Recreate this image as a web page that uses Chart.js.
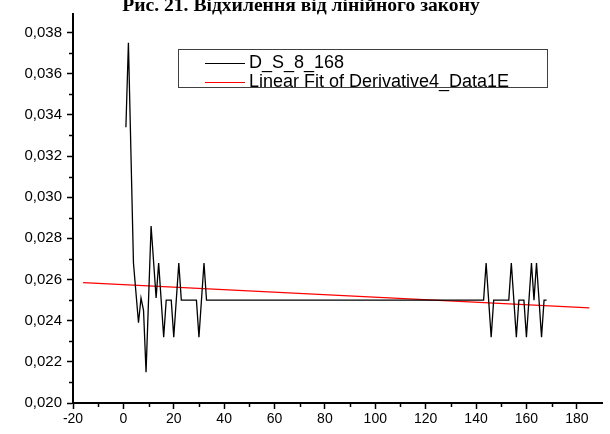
<!DOCTYPE html>
<html>
<head>
<meta charset="utf-8">
<script src="https://cdn.jsdelivr.net/npm/chart.js@4"></script>
<style>
  body { margin: 0; background: #fff; }
  #wrap { position: relative; width: 610px; height: 434px; overflow: hidden; background: #fff; }
  #title { position: absolute; top: -5px; left: -4px; width: 610px; text-align: center;
           font: bold 19.6px "Liberation Serif", serif; line-height: 20px; color: #000; white-space: nowrap; }
  #legend { position: absolute; left: 178px; top: 49px; width: 370px; height: 39px;
            box-sizing: border-box; border: 1.5px solid #404040; background: #fff; }
  .row { position: absolute; left: 0; height: 20px; line-height: 20px; white-space: nowrap;
         font: 18px "Liberation Sans", Arial, sans-serif; color: #000; }
  .swatch { position: absolute; left: 26px; top: 11px; width: 40px; height: 1px; }
  .txt { position: absolute; left: 70px; top: 0; }
</style>
</head>
<body>
<div id="wrap">
  <canvas id="myChart" width="610" height="434"></canvas>
  <div id="title">Рис. 21. Відхилення від лінійного закону</div>
  <div id="legend"></div>
</div>
<script>
// black curve
const xVals = [1, 2, 4, 6, 7, 8, 9, 11, 13, 14, 16, 17, 19, 20, 22, 23, 29, 30, 32, 33,
  143, 144, 146, 147, 153, 154, 156, 157, 159, 160, 162, 163, 164, 166, 167, 168];
const yVals = [0.0334, 0.0375, 0.0268, 0.0239, 0.0251, 0.0245, 0.0215, 0.0286, 0.0251, 0.0268,
  0.0232, 0.0250, 0.0250, 0.0232, 0.0268, 0.0250, 0.0250, 0.0232, 0.0268, 0.0250,
  0.0250, 0.0268, 0.0232, 0.0250, 0.0250, 0.0268, 0.0232, 0.0250, 0.0250, 0.0232,
  0.0268, 0.0250, 0.0268, 0.0232, 0.0250, 0.0250];

// red linear fit, two ends
const fitX = [-16, 185];
const fitY = [0.02585, 0.02462];

// ticks
const xTicks = [-20, 0, 20, 40, 60, 80, 100, 120, 140, 160, 180];
const xMinor = [-10, 10, 30, 50, 70, 90, 110, 130, 150, 170];
const yTicks = [0.020, 0.022, 0.024, 0.026, 0.028, 0.030, 0.032, 0.034, 0.036, 0.038];
const yMinor = [0.021, 0.023, 0.025, 0.027, 0.029, 0.031, 0.033, 0.035, 0.037];

const labels = ['D_S_8_168', 'Linear Fit of Derivative4_Data1E'];
const colors = ['#000000', '#ff0000'];

const fontFamily = '"Liberation Sans", Arial, sans-serif';

const data = {
  datasets: [
    {
      label: labels[0],
      data: xVals.map((x, i) => ({ x: x, y: yVals[i] })),
      borderColor: colors[0],
      borderWidth: 1.3,
      pointRadius: 0,
      tension: 0
    },
    {
      label: labels[1],
      data: fitX.map((x, i) => ({ x: x, y: fitY[i] })),
      borderColor: colors[1],
      borderWidth: 1.3,
      pointRadius: 0,
      tension: 0
    }
  ]
};

// short minor ticks, Chart.js has none of its own
const minorTicks = {
  id: 'minorTicks',
  afterDraw(chart) {
    const ctx = chart.ctx;
    const sx = chart.scales.x, sy = chart.scales.y;
    ctx.save();
    ctx.strokeStyle = '#000';
    ctx.lineWidth = 1.5;
    xMinor.forEach(v => {
      const px = Math.round(sx.getPixelForValue(v)) + 0.5;
      ctx.beginPath();
      ctx.moveTo(px, sy.bottom);
      ctx.lineTo(px, sy.bottom + 4);
      ctx.stroke();
    });
    yMinor.forEach(v => {
      const py = Math.round(sy.getPixelForValue(v)) + 0.5;
      ctx.beginPath();
      ctx.moveTo(sx.left, py);
      ctx.lineTo(sx.left - 4, py);
      ctx.stroke();
    });
    ctx.restore();
  }
};

const config = {
  type: 'line',
  data: data,
  options: {
    responsive: false,
    animation: false,
    devicePixelRatio: 1,
    layout: { padding: { top: 10, right: 8, left: 0, bottom: 0 } },
    plugins: {
      legend: { display: false },
      title: { display: false },
      tooltip: { enabled: false }
    },
    scales: {
      x: {
        type: 'linear',
        min: -20,
        max: 190,
        afterBuildTicks: s => { s.ticks = xTicks.map(v => ({ value: v })); },
        afterFit: s => { s.height = 31; },
        ticks: { font: { family: fontFamily, size: 14 }, color: '#000', padding: 2, maxRotation: 0, autoSkip: false },
        grid: { drawOnChartArea: false, tickLength: 6, tickColor: '#000', tickWidth: 1.5 },
        border: { color: '#000', width: 2 }
      },
      y: {
        min: 0.020,
        max: 0.0389,
        afterBuildTicks: s => { s.ticks = yTicks.map(v => ({ value: v })); },
        afterFit: s => { s.width = 73; },
        ticks: {
          font: { family: fontFamily, size: 15 }, color: '#000', padding: 5, autoSkip: false,
          callback: v => v.toFixed(3).replace('.', ',')
        },
        grid: { drawOnChartArea: false, tickLength: 6, tickColor: '#000', tickWidth: 1.5 },
        border: { color: '#000', width: 2 }
      }
    }
  },
  plugins: [minorTicks]
};

const myChart = new Chart(document.getElementById('myChart'), config);

// legend box as html text
const legendBox = document.getElementById('legend');
const rowTops = [2, 21];
labels.forEach((name, i) => {
  const row = document.createElement('div');
  row.className = 'row';
  row.style.top = rowTops[i] + 'px';
  const sw = document.createElement('span');
  sw.className = 'swatch';
  sw.style.backgroundColor = colors[i];
  const tx = document.createElement('span');
  tx.className = 'txt';
  tx.textContent = name;
  row.appendChild(sw);
  row.appendChild(tx);
  legendBox.appendChild(row);
});
</script>
</body>
</html>
